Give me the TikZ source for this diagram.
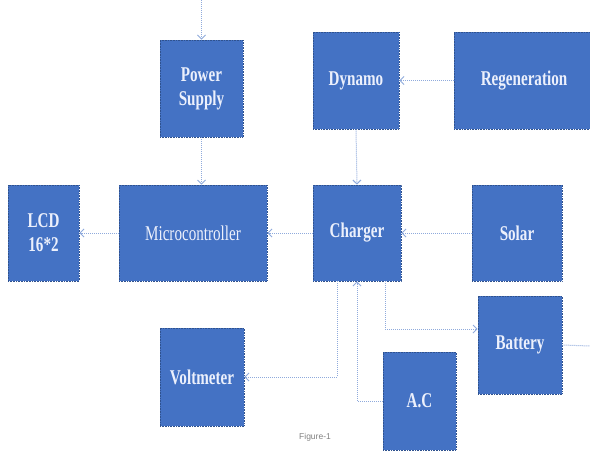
\documentclass[tikz,border=0pt]{standalone}
\usepackage{fontspec}
\setmainfont{Liberation Serif}
\newfontfamily\boxfont[FakeStretch=0.72]{Liberation Serif}
\newfontfamily\capfont{Liberation Sans}
\usepackage{tikz}
\usetikzlibrary{arrows.meta, positioning, calc}
\definecolor{boxblue}{RGB}{68,114,196}
\definecolor{boxedge}{RGB}{47,82,143}
\definecolor{linkblue}{RGB}{143,170,220}
\definecolor{textwhite}{RGB}{236,240,252}

\begin{document}
\begin{tikzpicture}[x=1pt,y=-1pt,
  block/.style={rectangle, fill=boxblue, draw=boxedge, densely dotted, line width=0.6pt,
    text=textwhite, align=center, inner sep=0pt,
    font=\boxfont\fontsize{21}{24}\selectfont\bfseries},
  thinlabel/.style={font=\boxfont\fontsize{21}{24}\selectfont},
  link/.style={draw=linkblue, densely dotted, line width=1pt,
    -{Straight Barb[length=4pt,width=8pt]}}]

  \useasboundingbox (0,0) rectangle (590,451);

  % Top row
  \node[block, minimum width=83, minimum height=97] (psu) at (201.5,88.5) {Power\\Supply};
  \node[block, minimum width=86, minimum height=97] (dyn) at (356,80.5) {Dynamo};
  \node[block, minimum width=140, minimum height=97] (regen) at (524,80.5) {Regeneration};

  % Middle row
  \node[block, minimum width=71, minimum height=96] (lcd) at (43.5,233) {LCD\\16*2};
  \node[block, thinlabel, minimum width=148, minimum height=96] (mcu) at (193,233) {Microcontroller};
  \node[block, minimum width=88, minimum height=96] (chg) at (357,233) {Charger};
  \node[block, minimum width=90, minimum height=96] (sol) at (517,233) {Solar};

  % Bottom row
  \node[block, minimum width=84, minimum height=98] (volt) at (202,377) {Voltmeter};
  \node[block, minimum width=73, minimum height=98] (ac) at (419.5,401) {A.C};
  \node[block, minimum width=84, minimum height=98] (bat) at (520,345) {Battery};

  \coordinate (feed) at (201.5,0);
  \coordinate (out) at (590,346);

  % Connectors
  \draw[link] (feed) -- (psu.north);
  \draw[link] (psu.south) -- (psu.south |- mcu.north);
  \draw[link] (regen.west) -- (dyn.east);
  \draw[link] (dyn.south) -- (chg.north);
  \draw[link] (sol.west) -- (chg.east);
  \draw[link] (chg.west) -- (mcu.east);
  \draw[link] (mcu.west) -- (lcd.east);
  \draw[link] ([xshift=-20pt]chg.south) |- (volt.east);
  \draw[link] (ac.west) -| (chg.south);
  \draw[link] ([xshift=28pt]chg.south) |- ([yshift=16pt]bat.west);
  \draw[link, -] (bat.east) -- (out);

  \node[font=\capfont\fontsize{8.5}{10}\selectfont, text=gray] (cap) at (315,437) {Figure-1};

\end{tikzpicture}
\end{document}
